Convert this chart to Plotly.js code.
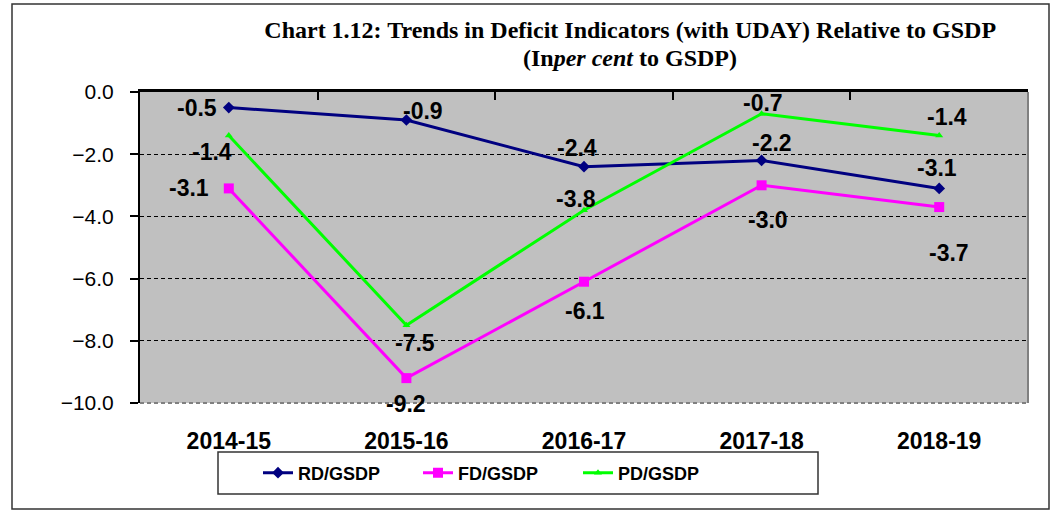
<!DOCTYPE html>
<html><head><meta charset="utf-8">
<script src="https://cdn.plot.ly/plotly-3.0.1.min.js"></script>
<style>html,body{margin:0;padding:0;background:#fff;}#chart{width:1054px;height:512px;}</style>
</head><body><div id="chart"></div>
<script>
const categories = ["2014-15","2015-16","2016-17","2017-18","2018-19"];
const rdGsdp = [-0.5,-0.9,-2.4,-2.2,-3.1];
const fdGsdp = [-3.1,-9.2,-6.1,-3.0,-3.7];
const pdGsdp = [-1.4,-7.5,-3.8,-0.7,-1.4];
const yTicks = [0,-2,-4,-6,-8,-10];

// label offsets (pixels) per series point
const rdShift = [[-32,0],[17,9],[-7,19],[10,17],[-2,20]];
const fdShift = [[-40,0],[0,-26],[1,-29],[6,-35],[10,-46]];
const pdShift = [[-17,-16],[9,-18],[-8,11],[1,11],[8,19]];

const traces = [
  {x:categories,y:rdGsdp,name:"RD/GSDP",type:"scatter",mode:"lines+markers",
   line:{color:"#000080",width:3},marker:{symbol:"diamond",size:9,color:"#000080"}},
  {x:categories,y:fdGsdp,name:"FD/GSDP",type:"scatter",mode:"lines+markers",
   line:{color:"#FF00FF",width:3},marker:{symbol:"square",size:10,color:"#FF00FF"}},
  {x:categories,y:pdGsdp,name:"PD/GSDP",type:"scatter",mode:"lines+markers",
   line:{color:"#00FF00",width:3},marker:{symbol:"triangle-up",size:7,color:"#00FF00"}},
  {x:[0],y:[0],xaxis:"x2",yaxis:"y",type:"scatter",mode:"markers",marker:{opacity:0},showlegend:false,hoverinfo:"skip"}
];

const annotations = [];
function addLabels(vals, shifts){
  vals.forEach((v,i)=>{
    annotations.push({x:categories[i],y:v,xref:"x",yref:"y",text:"<b>"+v.toFixed(1)+"</b>",
      showarrow:false,xshift:shifts[i][0],yshift:shifts[i][1],
      font:{family:"Liberation Sans, Arial, sans-serif",size:23,color:"#000"}});
  });
}
addLabels(rdGsdp, rdShift);
addLabels(fdGsdp, fdShift);
addLabels(pdGsdp, pdShift);

annotations.push({xref:"paper",yref:"paper",x:0.552,y:(403-58)/311,xanchor:"center",yanchor:"middle",showarrow:false,
  text:"<b>(In<i>per cent</i> to GSDP)</b>",font:{family:"Liberation Serif, Times New Roman, serif",size:24,color:"#000"}});

const layout = {
  width:1054,height:512,
  margin:{l:140,r:26,t:92,b:109},
  paper_bgcolor:"#fff",plot_bgcolor:"#C0C0C0",
  title:{text:"<b>Chart 1.12: Trends in Deficit Indicators (with UDAY) Relative to GSDP</b>",
    xref:"paper",x:0.552,xanchor:"center",yref:"container",y:1-30/512,yanchor:"middle",
    font:{family:"Liberation Serif, Times New Roman, serif",size:24,color:"#000"}},
  showlegend:true,
  legend:{orientation:"h",xref:"paper",yref:"paper",x:(258-140)/888,y:(403-473)/311,xanchor:"left",yanchor:"middle",
    borderwidth:0,bgcolor:"rgba(0,0,0,0)",entrywidth:115,entrywidthmode:"pixels",
    font:{family:"Liberation Sans, Arial, sans-serif",size:18,color:"#000",weight:"bold"}},
  xaxis:{type:"category",range:[-0.5,4.5],showgrid:false,zeroline:false,showline:false,
    ticks:"outside",ticklen:17,tickcolor:"rgba(0,0,0,0)",
    tickfont:{family:"Liberation Sans, Arial, sans-serif",size:23,color:"#000",weight:"bold"}},
  xaxis2:{overlaying:"x",side:"top",range:[-0.5,4.5],tickvals:[-0.5,0.5,1.5,2.5,3.5,4.5],
    showticklabels:false,ticks:"inside",ticklen:8,tickwidth:2,tickcolor:"#000",
    showline:true,linecolor:"#000",linewidth:3,showgrid:false,zeroline:false},
  yaxis:{range:[-10,0],tickvals:yTicks,tickformat:".1f",showline:true,linecolor:"#000",linewidth:2,
    ticks:"outside",ticklen:8,tickwidth:2,tickcolor:"#000",ticklabelstandoff:12,
    showgrid:true,gridcolor:"#000",griddash:"4px,3px",gridwidth:1,zeroline:false,
    tickfont:{family:"Liberation Sans, Arial, sans-serif",size:21,color:"#000"}},
  annotations:annotations,
  shapes:[
    {type:"line",xref:"paper",yref:"paper",x0:0,x1:1,y0:0,y1:0,line:{color:"#808080",width:2,dash:"4px,3px"}},
    {type:"line",xref:"paper",yref:"paper",x0:1,x1:1,y0:0,y1:1,line:{color:"#808080",width:2}},
    {type:"rect",xref:"paper",yref:"paper",x0:(218-140)/888,x1:(818-140)/888,y0:(403-494)/311,y1:(403-452)/311,line:{color:"#333",width:1.5}},
    {type:"rect",xref:"paper",yref:"paper",x0:(12-140)/888,x1:(1049-140)/888,y0:(403-509)/311,y1:(403-4)/311,line:{color:"#333",width:1.5},layer:"below"}
  ]
};
Plotly.newPlot("chart",traces,layout,{displayModeBar:false,staticPlot:true});
</script></body></html>
